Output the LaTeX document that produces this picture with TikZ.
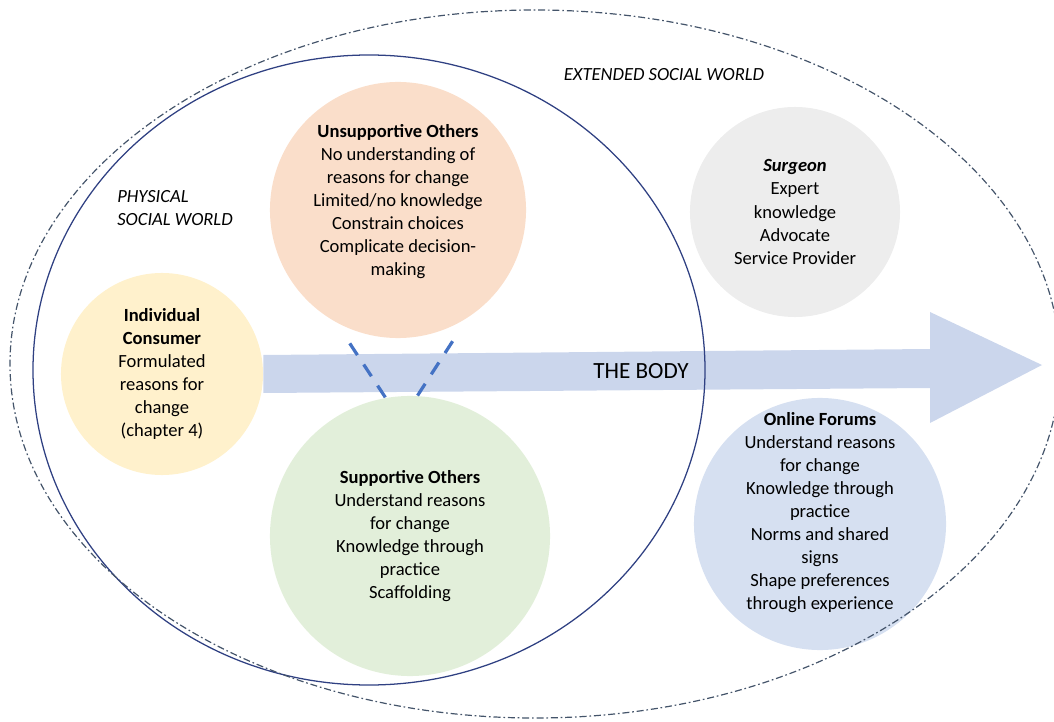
\documentclass[tikz,border=0pt]{standalone}
\usepackage{fontspec}
\setmainfont{Carlito}
\usetikzlibrary{calc}
\usetikzlibrary{positioning}
\definecolor{consumerfill}{RGB}{255,241,204}
\definecolor{unsupfill}{RGB}{250,222,202}
\definecolor{supfill}{RGB}{226,239,218}
\definecolor{surgeonfill}{RGB}{237,237,237}
\definecolor{forumfill}{RGB}{214,224,241}
\definecolor{bodyfill}{RGB}{203,214,236}
\definecolor{innerline}{RGB}{47,64,130}
\definecolor{outerline}{RGB}{68,84,106}
\definecolor{linkblue}{RGB}{68,114,196}
\tikzset{
  bubble/.style = {circle,inner sep=0pt,align=center,font=\fontsize{13.2}{16.4}\selectfont},
  worldlabel/.style = {inner sep=0pt,font=\fontsize{13.2}{16}\selectfont\itshape},
  linkdash/.style = {draw=linkblue,line width=2.3pt,dash pattern=on 10pt off 8pt}
}

\begin{document}
\begin{tikzpicture}[x=0.025cm,y=-0.025cm]
  \useasboundingbox (0,0) rectangle (1054,722);
  % the people
  \node[bubble,fill=consumerfill,minimum size=5.05cm] (consumer) at (162,374)
    {\textbf{Individual}\\\textbf{Consumer}\\Formulated\\reasons for\\change\\(chapter 4)};
  \node[bubble,fill=unsupfill,minimum size=6.4cm,text depth=14pt] (unsup) at (398,210)
    {\textbf{Unsupportive Others}\\No understanding of\\reasons for change\\Limited/no knowledge\\Constrain choices\\Complicate decision-\\making};
  \node[bubble,fill=supfill,minimum size=7cm] (sup) at (410,536)
    {\textbf{Supportive Others}\\Understand reasons\\for change\\Knowledge through\\practice\\Scaffolding};
  \node[bubble,fill=surgeonfill,minimum size=5.25cm] (surgeon) at (795,212)
    {\textbf{\textit{Surgeon}}\\Expert\\knowledge\\Advocate\\Service Provider};
  \node[bubble,fill=forumfill,minimum size=6.3cm,text depth=18.5pt,inner sep=-10pt] (forums) at (820,524)
    {\textbf{Online Forums}\\Understand reasons\\for change\\Knowledge through\\practice\\Norms and shared\\signs\\Shape preferences\\through experience};
  % the body
  \fill[bodyfill] ($(consumer.east)+(0,-19)$) -- (930,349) -- (930,312) -- (1042,365)
    -- (930,423) -- (930,388) -- ($(consumer.east)+(0,19)$) -- cycle;
  \node[inner sep=0pt,font=\fontsize{16.5}{18}\selectfont] (body) at (641,371) {THE BODY};
  % worlds
  \draw[innerline,line width=0.9pt] (369,370) ellipse [x radius=336,y radius=315];
  \draw[outerline,line width=0.85pt,dash pattern=on 5pt off 2pt on 1.2pt off 2pt]
    (535,364) ellipse [x radius=525,y radius=354];
  \node[worldlabel,anchor=west,align=left] (physical) at (117,208) {PHYSICAL\\SOCIAL WORLD};
  \node[worldlabel] (extended) at (664,75) {EXTENDED SOCIAL WORLD};
  % links
  \draw[linkdash,shorten <=18pt] (unsup.241) -- (sup.100);
  \draw[linkdash,shorten <=20pt] (unsup.303) -- (sup.87);
\end{tikzpicture}
\end{document}
